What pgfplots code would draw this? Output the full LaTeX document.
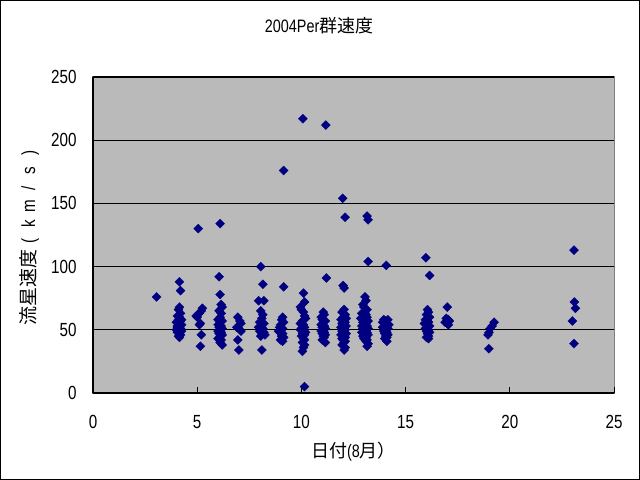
\documentclass[border=0pt]{standalone}
\usepackage{pgfplots}
\pgfplotsset{compat=1.18}
\usepackage{fontspec}
\setmainfont{Liberation Sans}[FakeStretch=0.8]
\newfontfamily\jp{Noto Sans CJK JP}
\definecolor{plotgray}{RGB}{186,186,186}
\definecolor{navy}{RGB}{0,0,128}
\definecolor{bordergray}{RGB}{128,128,128}
\newcommand\fw[1]{\makebox[17.5bp]{#1}}
\begin{document}
\begin{tikzpicture}
\begin{axis}[
  at={(0,0)}, anchor=south west,
  scale only axis, width=521bp, height=316bp,
  xmin=0, xmax=25, ymin=0, ymax=250,
  xtick={0,5,...,25}, ytick={0,50,...,250},
  tick align=inside,
  major tick length=6bp,
  axis x line*=bottom, axis y line*=left,
  axis line style={black, line width=1.2bp},
  tick style={black, line width=1bp},
  ymajorgrids, grid style={black, line width=1.1bp},
  axis background/.style={fill=plotgray, draw=bordergray, line width=1bp},
  /pgf/number format/assume math mode=true,
  tick label style={font=\fontsize{19bp}{22bp}\selectfont},
  xticklabel style={yshift=-19bp},
  yticklabel style={xshift=-13bp},
  title={2004Per{\jp 群速度}},
  title style={at={(axis description cs:0.434,1)}, anchor=center, yshift=45bp, font=\fontsize{18bp}{21bp}\selectfont},
  xlabel={{\jp 日付}(8{\jp 月）}},
  xlabel style={at={(axis description cs:0.5,-0.187)}, anchor=center, font=\fontsize{18bp}{21bp}\selectfont},
  ylabel={{\jp 流星速度}\fw{(}\fw{k}\fw{m}\fw{/}\fw{s}\fw{)}},
  ylabel style={at={(axis description cs:-0.1228,0.5)}, anchor=center, font=\fontsize{19bp}{22bp}\selectfont},
]
\addplot[only marks, mark=square*, mark size=3.2bp, mark options={rotate=45, fill=navy, draw=navy, line width=0.3bp}] coordinates {
(3.05,76)
(4.15,88) (4.2,81) (4.15,68) (4.1,66) (4.2,63) (4.05,61) (4.15,60) (4.1,58) (4.2,57) (4.0,56) (4.1,55) (4.25,54) (4.05,53) (4.15,52) (4.2,51) (4.0,50) (4.1,49) (4.25,49) (4.05,48) (4.15,47) (4.2,46) (4.1,45) (4.15,44) (4.05,52) (4.25,58)
(5.05,130) (5.25,67) (5.2,65) (5.1,63) (4.95,61) (5.0,60) (5.15,55) (5.1,54) (5.2,46) (5.15,37)
(6.1,134) (6.05,92) (6.1,78) (6.15,70) (6.2,68) (6.05,65) (6.15,63) (6.1,60) (6.0,58) (6.2,57) (6.1,56) (6.0,54) (6.15,53) (6.05,52) (6.2,51) (6.1,50) (6.0,49) (6.15,48) (6.05,47) (6.2,46) (6.1,45) (6.0,43) (6.15,42) (6.1,40) (6.2,38)
(6.95,60) (7.05,57) (7.1,55) (6.9,52) (7.0,51) (7.1,49) (6.95,42) (7.0,34)
(8.05,100) (8.15,86) (7.95,73) (8.2,73) (8.05,65) (8.15,62) (8.1,59) (8.0,56) (8.2,55) (8.05,53) (7.95,52) (8.15,51) (8.1,50) (8.0,49) (8.2,48) (8.1,47) (8.25,46) (8.05,45) (8.1,34)
(9.15,176) (9.15,84) (9.1,60) (9.05,58) (9.15,56) (9.0,54) (8.95,52) (9.1,51) (9.05,50) (8.9,49) (9.0,48) (9.1,47) (9.05,45) (9.15,44) (9.0,42) (9.1,41)
(10.07,217) (10.1,79) (10.15,72) (9.95,68) (10.0,66) (10.1,64) (10.15,61) (10.2,59) (10.05,57) (9.95,55) (10.1,54) (10.15,52) (10.0,51) (9.95,50) (10.1,49) (10.2,48) (10.05,47) (10.15,46) (10.0,45) (10.1,43) (10.15,42) (10.05,40) (10.15,38) (10.1,36) (10.05,33) (10.15,5)
(11.17,212) (11.2,91) (11.05,64) (11.1,62) (10.95,60) (11.0,58) (11.15,57) (11.05,56) (10.95,54) (11.1,53) (11.0,52) (11.15,51) (11.05,50) (10.95,49) (11.1,48) (11.0,47) (11.15,46) (11.05,45) (11.1,44) (11.0,42) (11.15,40)
(11.98,154) (12.1,139) (12.0,85) (12.05,83) (12.05,66) (11.95,64) (12.1,62) (12.0,60) (12.15,59) (11.9,58) (12.05,57) (12.1,56) (11.95,55) (12.0,54) (12.15,53) (11.9,52) (12.05,51) (12.1,50) (11.95,49) (12.0,48) (12.15,47) (11.9,46) (12.05,45) (12.1,44) (11.95,43) (12.0,42) (12.1,41) (12.05,40) (11.95,38) (12.1,36) (12.05,34)
(13.15,140) (13.2,137) (13.2,104) (13.05,76) (13.1,73) (12.95,70) (13.0,68) (13.15,66) (13.05,64) (12.9,63) (13.1,62) (13.0,61) (13.15,60) (12.85,59) (13.05,58) (13.2,57) (12.95,56) (13.1,55) (13.0,54) (12.9,53) (13.15,53) (13.05,52) (12.95,51) (13.2,51) (13.1,50) (13.0,49) (12.9,48) (13.15,48) (13.05,47) (13.2,46) (12.95,45) (13.1,44) (13.0,43) (13.15,42) (13.1,41) (13.2,39) (13.15,37)
(14.07,101) (13.95,58) (14.15,58) (14.05,57) (13.9,56) (14.1,55) (14.2,54) (14.0,53) (13.9,52) (14.15,51) (14.05,50) (13.95,49) (14.1,48) (14.0,47) (14.15,46) (14.05,45) (14.1,44) (14.0,43) (14.1,41)
(15.97,107) (16.15,93) (16.05,66) (16.1,64) (16.0,62) (16.15,60) (15.95,58) (16.05,57) (16.1,56) (15.9,55) (16.0,54) (16.15,53) (16.05,52) (15.95,51) (16.1,50) (16.0,49) (16.15,48) (16.05,47) (16.1,45) (16.0,44) (16.1,43)
(17.0,68) (16.95,59) (17.05,58) (17.1,57) (16.9,56) (17.0,55) (17.05,54)
(19.25,56) (19.15,53) (19.05,51) (19.0,48) (18.95,46) (19.0,35)
(23.08,113) (23.1,72) (23.15,67) (23.0,57) (23.08,39)
};
\end{axis}
\draw[black, line width=1.5bp] (-92.25bp,-86.25bp) rectangle (546.25bp,392.25bp);
\end{tikzpicture}
\end{document}
